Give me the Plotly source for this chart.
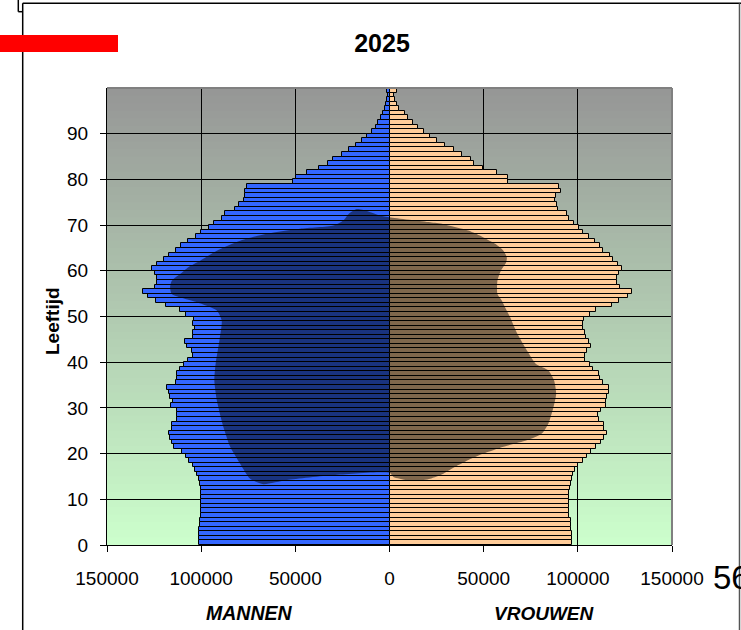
import plotly.graph_objects as go

# ---------------- data ----------------
ages = list(range(100))

mannen = [101300, 101300, 101300, 101300, 100700, 100500, 100000, 99900, 99900, 99900,
          99900, 99900, 100000, 100500, 101300, 102200, 103200, 104500, 106200, 108200,
          110300, 114400, 115600, 116500, 116900, 115400, 115300, 113000, 112600, 113000,
          116000, 115100, 116500, 117000, 118300, 113300, 113000, 112600, 111500, 109100,
          107000, 104500, 105000, 107300, 108400, 104100, 104500, 103200, 104500, 103800,
          107800, 111000, 118600, 123900, 128300, 131000, 124500, 123200, 123200, 124500,
          125900, 123400, 119500, 117000, 113200, 110500, 106800, 102700, 100000, 95600,
          93000, 89100, 87100, 82000, 80000, 77500, 76800, 76800, 75600, 51000,
          49600, 43900, 37700, 32400, 29800, 25300, 21600, 17700, 14400, 11700,
          9400, 7100, 5900, 4400, 3600, 2300, 1800, 1100, 700, 1100]

vrouwen = [97100, 97100, 96900, 96400, 96300, 96300, 95500, 95500, 95500, 95500,
           95500, 95500, 95900, 96300, 96700, 97200, 98700, 100100, 102600, 104800,
           107200, 109700, 112200, 114100, 115400, 113900, 114100, 111300, 110900, 112200,
           114900, 114900, 115400, 116800, 116800, 113600, 112000, 111500, 108300, 106200,
           104000, 103700, 104800, 107100, 106000, 104400, 103900, 102800, 102800, 103500,
           106300, 109700, 118200, 121900, 126500, 128700, 122500, 120700, 120700, 122100,
           123300, 121200, 118600, 117300, 113600, 112000, 109200, 105800, 103000, 100800,
           98200, 95500, 94100, 89700, 89000, 87800, 88500, 91000, 90200, 63100,
           63100, 57300, 49700, 44800, 43300, 38400, 34500, 29300, 25400, 21700,
           18200, 15000, 12500, 10000, 8000, 5300, 4200, 2800, 2400, 4200]

# dark overlay silhouette (value, age)
overlay_value = [0, 21600, 28600, 41900, 49900, 56100, 60500, 62300, 61900, 59100,
                 57300, 57300, 59600, 62000, 64000, 67900, 72900, 77800, 84400, 87400,
                 88500, 87100, 84400, 80900, 72900, 60500, 49900, 41900, 34800, 28600,
                 21600, 14500, 9200, 2100, 0,
                 -29800, -54500, -67000, -74000, -79300, -84600, -88200, -91700, -93000,
                 -92300, -90300, -89100, -91700, -102300, -115600, -116500, -115600,
                 -111200, -106800, -100600, -91700, -79300, -65100, -47500, -29800,
                 -24500, -21800, -17400, -12100, -5000, 0]
overlay_age = [71.7, 70.6, 70.2, 68.8, 67.3, 65.9, 64.4, 62.9, 61.8, 60.0,
               57.8, 54.9, 53.5, 51.5, 49.9, 46.2, 42.6, 39.6, 38.2, 36.0,
               33.1, 30.2, 26.6, 24.4, 22.9, 21.5, 20.0, 18.6, 17.1, 15.6,
               14.5, 14.0, 14.2, 14.9, 15.8,
               15.3, 14.2, 13.3, 14.5, 17.8, 21.5, 25.8, 31.7, 36.0,
               39.7, 44.8, 49.1, 51.3, 53.1, 54.9, 56.4, 57.8,
               59.3, 60.8, 62.2, 64.4, 66.6, 68.1, 69.2, 69.9,
               71.0, 72.4, 73.5, 73.1, 72.1, 71.7]

x_tickvals = [-150000, -100000, -50000, 0, 50000, 100000, 150000]
x_ticktext = ["150000", "100000", "50000", "0", "50000", "100000", "150000"]
y_tickvals = [0, 10, 20, 30, 40, 50, 60, 70, 80, 90]

title_text = "2025"
y_title = "Leeftijd"
label_men = "MANNEN"
label_women = "VROUWEN"
page_number = "56"

# ---------------- geometry helpers (pixel -> paper) ----------------
W, H = 741, 630
ML, MR, MT, MB = 107, 69, 88, 85
PW, PH = W - ML - MR, H - MT - MB


def px(xp):
    return (xp - ML) / PW


def py(yp):
    return (H - MB - yp) / PH


FONT = "Liberation Sans, Arial, sans-serif"

fig = go.Figure()

fig.add_trace(go.Bar(
    y=[a + 0.5 for a in ages], x=[-v for v in mannen], orientation="h",
    width=1, marker=dict(color="#3366FF", line=dict(color="black", width=1)),
    hoverinfo="skip", showlegend=False))
fig.add_trace(go.Bar(
    y=[a + 0.5 for a in ages], x=vrouwen, orientation="h",
    width=1, marker=dict(color="#FFCC99", line=dict(color="black", width=1)),
    hoverinfo="skip", showlegend=False))
fig.add_trace(go.Scatter(
    x=overlay_value, y=overlay_age, mode="lines", fill="toself",
    fillcolor="rgba(0,0,0,0.5)", line=dict(width=0, shape="spline", smoothing=0.6),
    hoverinfo="skip", showlegend=False))

shapes = []
# gradient background: gray at top to light green at bottom
N = 60
c_top = (150, 150, 150)
c_bot = (204, 255, 204)
for i in range(N):
    t = (i + 0.5) / N
    c = tuple(round(c_bot[k] + (c_top[k] - c_bot[k]) * t) for k in range(3))
    shapes.append(dict(type="rect", xref="x domain", yref="y domain",
                       x0=0, x1=1, y0=i / N, y1=(i + 1) / N + 0.002,
                       fillcolor="rgb(%d,%d,%d)" % c, line=dict(width=0), layer="below"))
# plot area top/right border (gray)
shapes.append(dict(type="line", xref="x domain", yref="y domain", x0=0, x1=1, y0=1, y1=1,
                   line=dict(color="#808080", width=2), layer="above"))
shapes.append(dict(type="line", xref="x domain", yref="y domain", x0=1, x1=1, y0=0, y1=1,
                   line=dict(color="#808080", width=2), layer="above"))
# outer frame
frame = dict(color="black", width=1.5)
shapes.append(dict(type="line", xref="paper", yref="paper", x0=px(22.7), x1=px(22.7),
                   y0=py(3.3), y1=py(640), line=frame, layer="above"))
shapes.append(dict(type="line", xref="paper", yref="paper", x0=px(22.7), x1=px(745),
                   y0=py(3.3), y1=py(3.3), line=frame, layer="above"))
shapes.append(dict(type="line", xref="paper", yref="paper", x0=px(739.5), x1=px(739.5),
                   y0=py(3.3), y1=py(640), line=dict(color="#555555", width=1.5), layer="above"))
shapes.append(dict(type="line", xref="paper", yref="paper", x0=px(18.3), x1=px(18.3),
                   y0=py(-2), y1=py(11.7), line=frame, layer="above"))
shapes.append(dict(type="line", xref="paper", yref="paper", x0=px(18.3), x1=px(22.7),
                   y0=py(11.7), y1=py(11.7), line=frame, layer="above"))
# red bar
shapes.append(dict(type="rect", xref="paper", yref="paper", x0=px(-2), x1=px(118),
                   y0=py(52), y1=py(35), fillcolor="#FF0000", line=dict(width=0), layer="above"))

annotations = [
    dict(text="<b>%s</b>" % y_title, xref="paper", yref="paper", x=px(52), y=py(321),
         xanchor="center", yanchor="middle",
         textangle=-90, showarrow=False, font=dict(family=FONT, size=19, color="black")),
    dict(text="<b><i>%s</i></b>" % label_men, xref="paper", yref="paper", x=px(248.5), y=py(613),
         xanchor="center", yanchor="middle",
         showarrow=False, font=dict(family=FONT, size=19.5, color="black")),
    dict(text="<b><i>%s</i></b>" % label_women, xref="paper", yref="paper", x=px(544.5), y=py(613),
         xanchor="center", yanchor="middle",
         showarrow=False, font=dict(family=FONT, size=19, color="black")),
    dict(text=page_number, xref="paper", yref="paper", x=px(711), y=py(577),
         xanchor="left", yanchor="middle", showarrow=False,
         font=dict(family=FONT, size=33, color="black")),
]

fig.update_layout(
    width=W, height=H,
    margin=dict(l=ML, r=MR, t=MT, b=MB, pad=0),
    paper_bgcolor="white", plot_bgcolor="#CCFFCC",
    barmode="overlay", bargap=0,
    title=dict(text="<b>%s</b>" % title_text, x=382 / W, xref="container", xanchor="center",
               y=1 - 43 / H, yref="container", yanchor="middle",
               font=dict(family=FONT, size=25, color="black")),
    xaxis=dict(range=[-150000, 150000], tickvals=x_tickvals, ticktext=x_ticktext,
               showgrid=True, gridcolor="black", gridwidth=1, zeroline=False,
               showline=True, linecolor="black", linewidth=1,
               ticks="outside", ticklen=6, tickcolor="black", ticklabelstandoff=10,
               tickfont=dict(family=FONT, size=19, color="black")),
    yaxis=dict(range=[0, 100], tickvals=y_tickvals,
               showgrid=True, gridcolor="black", gridwidth=1, zeroline=False,
               showline=True, linecolor="black", linewidth=1,
               ticks="outside", ticklen=6, tickcolor="black", ticklabelstandoff=8,
               tickfont=dict(family=FONT, size=19, color="black")),
    shapes=shapes,
    annotations=annotations,
    font=dict(family=FONT),
)

fig.write_html("out.html", config={"displayModeBar": False},
               post_script="document.body.style.margin='0';")
